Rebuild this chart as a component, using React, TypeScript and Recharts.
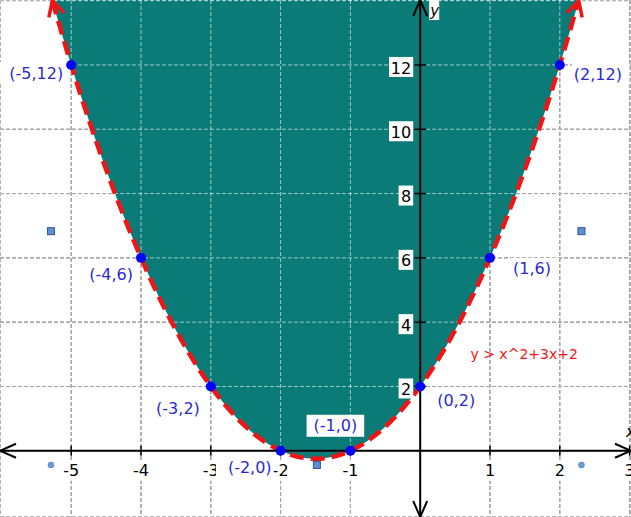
import {
  ComposedChart,
  Area,
  Line,
  Scatter,
  XAxis,
  YAxis,
  CartesianGrid,
  ReferenceLine,
} from "recharts";

const X_MIN = -6.02;
const X_MAX = 3.02;
const Y_MIN = -2.06;
const Y_MAX = 14.02;

// boundary curve y = x^2+3x+2
const curveX = [-5.27, -5, -4.5, -4, -3.5, -3, -2.5, -2, -1.5, -1, -0.5, 0, 0.5, 1, 1.5, 2, 2.27];
const curveY = [14, 12, 8.75, 6, 3.75, 2, 0.75, 0, -0.25, 0, 0.75, 2, 3.75, 6, 8.75, 12, 14];

// labelled points
const pointX = [-5, -4, -3, -2, -1, 0, 1, 2];
const pointY = [12, 6, 2, 0, 0, 2, 6, 12];
const pointLabels = ["(-5,12)", "(-4,6)", "(-3,2)", "(-2,0)", "(-1,0)", "(0,2)", "(1,6)", "(2,12)"];

// axes
const gridX = [-6, -5, -4, -3, -2, -1, 0, 1, 2, 3];
const gridY = [-2, 0, 2, 4, 6, 8, 10, 12, 14];
const xTickLabels = [-5, -4, -3, -2, -1, 1, 2, 3];
const yTickLabels = [2, 4, 6, 8, 10, 12];

// small markers left by the drawing tool
const squareX = [-5.29, 2.31, -1.48];
const squareY = [6.83, 6.83, -0.44];
const dotX = [-5.29, 2.31];
const dotY = [-0.44, -0.44];

const inequality = "y > x^2+3x+2";
const inequalityAt = { x: 0.72, y: 3.02 };

const TEAL = "#0a7b77";
const RED = "#f01414";
const BLUE = "#0000ff";
const LABEL_BLUE = "#2a2ad2";
const FONT = "DejaVu Sans, Verdana, sans-serif";

// label placement around each point (pixels)
const labelPos: Record<string, { dx: number; dy: number; anchor: "start" | "end" | "middle" }> = {
  "(-5,12)": { dx: -8, dy: 8, anchor: "end" },
  "(-4,6)": { dx: -8, dy: 17, anchor: "end" },
  "(-3,2)": { dx: -11, dy: 22, anchor: "end" },
  "(-2,0)": { dx: -9, dy: 17, anchor: "end" },
  "(-1,0)": { dx: -15, dy: -25, anchor: "middle" },
  "(0,2)": { dx: 17, dy: 14, anchor: "start" },
  "(1,6)": { dx: 23, dy: 11, anchor: "start" },
  "(2,12)": { dx: 14, dy: 9, anchor: "start" },
};

const curveData = curveX.map((x, i) => ({ x, y: curveY[i], band: [curveY[i], Y_MAX] }));
const pointData = pointX.map((x, i) => ({ x, y: pointY[i], label: pointLabels[i] }));
const xTickData = xTickLabels.map((x) => ({ x, y: 0, label: String(x) }));
const yTickData = yTickLabels.map((y) => ({ x: 0, y, label: String(y) }));
const squareData = squareX.map((x, i) => ({ x, y: squareY[i] }));
const dotData = dotX.map((x, i) => ({ x, y: dotY[i] }));
const axisEnds = [
  { x: X_MIN, y: 0, dir: "left" },
  { x: X_MAX, y: 0, dir: "right" },
  { x: 0, y: Y_MAX, dir: "up" },
  { x: 0, y: Y_MIN, dir: "down" },
];
const curveEnds = [
  { x: curveX[0], y: curveY[0], dir: -1 },
  { x: curveX[curveX.length - 1], y: curveY[curveY.length - 1], dir: 1 },
];
const noteData = [{ x: inequalityAt.x, y: inequalityAt.y, label: inequality }];

function textWidth(s: string, size: number) {
  return s.length * size * 0.6;
}

const PointShape = (p: any) => {
  const { cx, cy, payload } = p;
  const pos = labelPos[payload.label];
  const w = textWidth(payload.label, 16) - 4;
  const tx = cx + pos.dx;
  const ty = cy + pos.dy;
  const left = pos.anchor === "end" ? tx - w : pos.anchor === "middle" ? tx - w / 2 : tx;
  return (
    <g>
      <rect x={left - 2} y={ty - 11} width={w + 4} height={22} fill="#fff" />
      <text x={tx} y={ty} dy="0.35em" textAnchor={pos.anchor} fontFamily={FONT} fontSize={16} fill={LABEL_BLUE}>
        {payload.label}
      </text>
      <circle cx={cx} cy={cy} r={5} fill={BLUE} />
    </g>
  );
};

const XTickShape = (p: any) => {
  const { cx, cy, payload } = p;
  return (
    <g>
      <line x1={cx} x2={cx} y1={cy - 5} y2={cy + 5} stroke="#000" strokeWidth={1.5} />
      <rect x={cx - 11} y={cy + 11} width={22} height={19} fill="#fff" />
      <text x={cx} y={cy + 20} dy="0.35em" textAnchor="middle" fontFamily={FONT} fontSize={16} fill="#000">
        {payload.label}
      </text>
    </g>
  );
};

const YTickShape = (p: any) => {
  const { cx, cy, payload } = p;
  const w = textWidth(payload.label, 16) + 1;
  return (
    <g>
      <line x1={cx - 6} x2={cx + 6} y1={cy} y2={cy} stroke="#000" strokeWidth={1.5} />
      <rect x={cx - 9 - w - 2} y={cy - 8} width={w + 4} height={20} fill="#fff" />
      <text x={cx - 9} y={cy + 3} dy="0.35em" textAnchor="end" fontFamily={FONT} fontSize={16} fill="#000">
        {payload.label}
      </text>
    </g>
  );
};

const AxisEndShape = (p: any) => {
  const { cx, cy, payload } = p;
  const L = 16;
  const H = 7;
  let d = "";
  let extra = null;
  if (payload.dir === "left") d = `M${cx + L},${cy - H} L${cx},${cy} L${cx + L},${cy + H}`;
  if (payload.dir === "right") {
    d = `M${cx - L},${cy - H} L${cx},${cy} L${cx - L},${cy + H}`;
    extra = (
      <text x={cx - 5} y={cy - 19} dy="0.35em" fontFamily={FONT} fontStyle="italic" fontSize={15} fill="#000">
        x
      </text>
    );
  }
  if (payload.dir === "up") {
    d = `M${cx - H},${cy + L} L${cx},${cy} L${cx + H},${cy + L}`;
    extra = (
      <g>
        <rect x={cx + 9} y={cy} width={10} height={20} fill="#fff" />
        <text x={cx + 10} y={cy + 11} dy="0.35em" fontFamily={FONT} fontStyle="italic" fontSize={15} fill="#000">
          y
        </text>
      </g>
    );
  }
  if (payload.dir === "down") d = `M${cx - H},${cy - L} L${cx},${cy} L${cx + H},${cy - L}`;
  return (
    <g>
      <path d={d} fill="none" stroke="#000" strokeWidth={2} />
      {extra}
    </g>
  );
};

const CurveEndShape = (p: any) => {
  const { cx, cy, payload } = p;
  // direction of travel in pixels at the ends of the curve
  const vx = payload.dir;
  const vy = -3.47;
  const n = Math.hypot(vx, vy);
  const ux = vx / n;
  const uy = vy / n;
  const L = 17;
  const a = (28 * Math.PI) / 180;
  const bx = -ux;
  const by = -uy;
  const r1x = bx * Math.cos(a) - by * Math.sin(a);
  const r1y = bx * Math.sin(a) + by * Math.cos(a);
  const r2x = bx * Math.cos(-a) - by * Math.sin(-a);
  const r2y = bx * Math.sin(-a) + by * Math.cos(-a);
  return (
    <path
      d={`M${cx + r1x * L},${cy + r1y * L} L${cx},${cy} L${cx + r2x * L},${cy + r2y * L}`}
      fill="none"
      stroke={RED}
      strokeWidth={3.5}
      strokeLinejoin="miter"
    />
  );
};

const SquareShape = (p: any) => (
  <rect x={p.cx - 3.5} y={p.cy - 3.5} width={7} height={7} fill="#5b8fd6" stroke="#34578c" strokeWidth={1} />
);

const DotShape = (p: any) => <circle cx={p.cx} cy={p.cy} r={3} fill="#6a9ad8" stroke="#4a74b0" strokeWidth={0.5} />;

const NoteShape = (p: any) => (
  <text x={p.cx} y={p.cy} dy="0.35em" fontFamily={FONT} fontSize={14} fill={RED}>
    {p.payload.label}
  </text>
);

export default function App() {
  return (
    <div style={{ position: "absolute", left: 0, top: 0, background: "#fff" }}>
      <ComposedChart width={631} height={517} margin={{ top: 0, right: 0, bottom: 0, left: 0 }}>
        <XAxis
          dataKey="x"
          type="number"
          domain={[X_MIN, X_MAX]}
          ticks={gridX}
          allowDataOverflow
          hide
        />
        <YAxis type="number" domain={[Y_MIN, Y_MAX]} ticks={gridY} allowDataOverflow hide />
        <CartesianGrid stroke="#262626" strokeDasharray="4 2" strokeWidth={1} />
        <Area
          data={curveData}
          dataKey="band"
          type="monotone"
          stroke="none"
          fill={TEAL}
          fillOpacity={1}
          isAnimationActive={false}
        />
        <CartesianGrid
          stroke="#ffffff"
          strokeOpacity={0.6}
          strokeDasharray="4 2"
          strokeWidth={1}
          zIndex={150}
        />
        <Line
          data={curveData}
          dataKey="y"
          type="monotone"
          stroke={RED}
          strokeWidth={4.5}
          strokeDasharray="14 7"
          dot={false}
          activeDot={false}
          isAnimationActive={false}
        />
        <ReferenceLine x={0} stroke="#000" strokeWidth={2} />
        <ReferenceLine y={0} stroke="#000" strokeWidth={2} />
        <Scatter data={curveEnds} dataKey="y" shape={CurveEndShape} isAnimationActive={false} />
        <Scatter data={axisEnds} dataKey="y" shape={AxisEndShape} isAnimationActive={false} />
        <Scatter data={xTickData} dataKey="y" shape={XTickShape} isAnimationActive={false} />
        <Scatter data={yTickData} dataKey="y" shape={YTickShape} isAnimationActive={false} />
        <Scatter data={squareData} dataKey="y" shape={SquareShape} isAnimationActive={false} />
        <Scatter data={dotData} dataKey="y" shape={DotShape} isAnimationActive={false} />
        <Scatter data={noteData} dataKey="y" shape={NoteShape} isAnimationActive={false} />
        <Scatter data={pointData} dataKey="y" shape={PointShape} isAnimationActive={false} />
      </ComposedChart>
    </div>
  );
}
